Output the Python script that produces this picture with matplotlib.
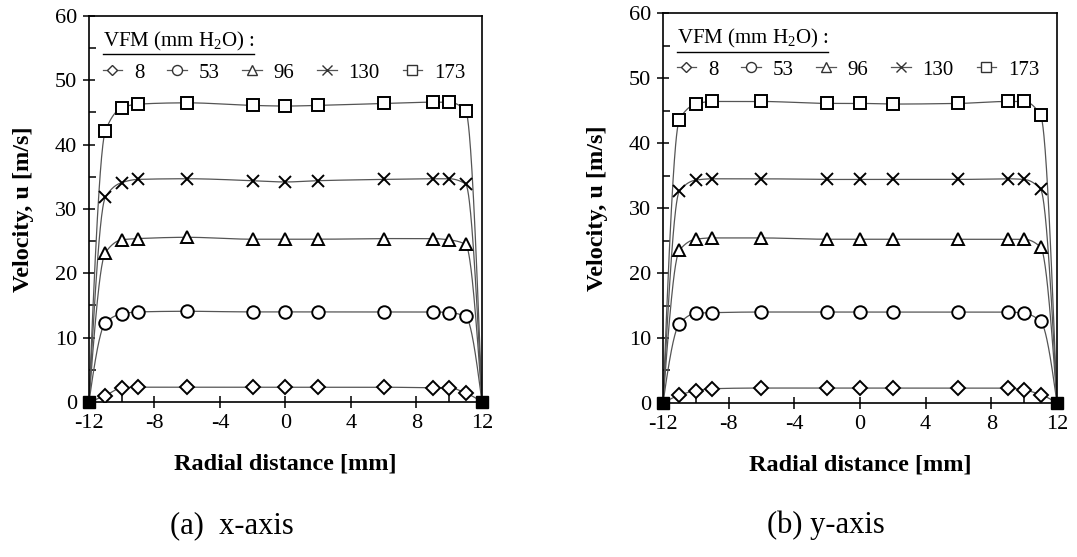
import numpy as np
import matplotlib
matplotlib.use("Agg")
import matplotlib.pyplot as plt
from matplotlib.lines import Line2D

plt.rcParams["font.family"] = ["Liberation Serif", "DejaVu Serif"]
plt.rcParams["mathtext.fontset"] = "custom"
plt.rcParams["mathtext.rm"] = "Liberation Serif"
plt.rcParams["axes.unicode_minus"] = False

# Données : position radiale [mm] et vitesse [m/s] pour chaque pression VFM
radial = [-12, -11, -10, -9, -6, -2, 0, 2, 6, 9, 10, 11, 12]
vfm_labels = ["8", "53", "96", "130", "173"]
markers = ["D", "o", "^", "x", "s"]

x_axis_8 = [0, 1.0, 2.2, 2.3, 2.3, 2.3, 2.3, 2.3, 2.3, 2.2, 2.2, 1.4, 0]
x_axis_53 = [0, 12.3, 13.7, 14.0, 14.1, 14.0, 14.0, 14.0, 14.0, 14.0, 13.9, 13.3, 0]
x_axis_96 = [0, 23.2, 25.2, 25.4, 25.6, 25.3, 25.3, 25.3, 25.4, 25.4, 25.2, 24.5, 0]
x_axis_130 = [0, 31.8, 34.1, 34.6, 34.7, 34.4, 34.2, 34.4, 34.6, 34.7, 34.7, 33.9, 0]
x_axis_173 = [0, 42.1, 45.7, 46.3, 46.5, 46.1, 46.0, 46.1, 46.4, 46.6, 46.6, 45.3, 0]

y_axis_8 = [0, 1.2, 1.9, 2.2, 2.3, 2.3, 2.3, 2.3, 2.3, 2.3, 2.0, 1.3, 0]
y_axis_53 = [0, 12.2, 13.8, 13.9, 14.0, 14.0, 14.0, 14.0, 14.0, 14.0, 13.8, 12.6, 0]
y_axis_96 = [0, 23.5, 25.2, 25.4, 25.4, 25.2, 25.2, 25.2, 25.2, 25.2, 25.2, 24.0, 0]
y_axis_130 = [0, 32.6, 34.3, 34.5, 34.5, 34.4, 34.4, 34.4, 34.4, 34.5, 34.4, 32.9, 0]
y_axis_173 = [0, 43.6, 46.0, 46.4, 46.4, 46.1, 46.1, 46.0, 46.1, 46.4, 46.4, 44.3, 0]

wall_x = [-12, 12]
wall_u = [0, 0]

panels = [
    ("(a)  x-axis", [x_axis_8, x_axis_53, x_axis_96, x_axis_130, x_axis_173]),
    ("(b) y-axis", [y_axis_8, y_axis_53, y_axis_96, y_axis_130, y_axis_173]),
]


def lissage(x, y, n=40):
    # courbe lissée sans dépassement (Hermite monotone, type PCHIP)
    x = np.asarray(x, float)
    y = np.asarray(y, float)
    h = np.diff(x)
    delta = np.diff(y) / h
    d = np.zeros_like(y)
    for k in range(1, len(x) - 1):
        if delta[k - 1] * delta[k] > 0:
            w1 = 2 * h[k] + h[k - 1]
            w2 = h[k] + 2 * h[k - 1]
            d[k] = (w1 + w2) / (w1 / delta[k - 1] + w2 / delta[k])
    for i, (h0, h1, d0, d1) in ((0, (h[0], h[1], delta[0], delta[1])),
                                (-1, (h[-1], h[-2], delta[-1], delta[-2]))):
        m = ((2 * h0 + h1) * d0 - h0 * d1) / (h0 + h1)
        if np.sign(m) != np.sign(d0):
            m = 0
        elif np.sign(d0) != np.sign(d1) and abs(m) > 3 * abs(d0):
            m = 3 * d0
        d[i] = m
    xs, ys = [], []
    t = np.linspace(0, 1, n)
    for k in range(len(x) - 1):
        h00 = 2 * t ** 3 - 3 * t ** 2 + 1
        h10 = t ** 3 - 2 * t ** 2 + t
        h01 = -2 * t ** 3 + 3 * t ** 2
        h11 = t ** 3 - t ** 2
        xs.append(x[k] + t * h[k])
        ys.append(h00 * y[k] + h10 * h[k] * d[k] + h01 * y[k + 1] + h11 * h[k] * d[k + 1])
    return np.concatenate(xs), np.concatenate(ys)


fig = plt.figure(figsize=(10.77, 5.57), dpi=100)
rects = [[0.0826, 0.2783, 0.3649, 0.6930], [0.6156, 0.2765, 0.3658, 0.7000]]
caption_x = [0.2155, 0.767]

for (caption, series), rect, cx in zip(panels, rects, caption_x):
    ax = fig.add_axes(rect)
    handles = []
    for vals, mk, lab in zip(series, markers, vfm_labels):
        xs, ys = lissage(radial, vals)
        ax.plot(xs, ys, color="#555555", lw=0.9, zorder=2)
        ms = 7 if mk == "D" else 9
        ax.plot(radial[1:-1], vals[1:-1], ls="none", marker=mk, ms=ms,
                mfc="white", mec="black", mew=1.4, zorder=3)
        handles.append(Line2D([], [], color="#555555", lw=0.9, marker=mk,
                              ms=ms * 0.8, mfc="white", mec="#333333", mew=1.0))
    ax.plot(wall_x, wall_u, ls="none", marker="s", ms=9, color="black",
            clip_on=False, zorder=4)

    ax.set_xlim(-12, 12)
    ax.set_ylim(0, 60)
    ax.set_xticks([-12, -8, -4, 0, 4, 8, 12])
    ax.set_xticks([-10, 10], minor=True)
    ax.set_yticks(range(0, 61, 10))
    ax.set_yticks(range(5, 60, 10), minor=True)
    ax.tick_params(which="major", direction="inout", length=9, width=1.1,
                   labelsize=16, pad=4)
    ax.tick_params(which="minor", direction="in", length=5, width=1.1)
    for s in ax.spines.values():
        s.set_linewidth(1.2)

    ax.set_xlabel("Radial distance [mm]", fontsize=17.5, fontweight="bold", labelpad=15)
    ax.set_ylabel("Velocity, u [m/s]", fontsize=17.5, fontweight="bold", labelpad=15)

    leg = ax.legend(handles, vfm_labels, title="VFM (mm H$_2$O) :", ncol=5,
                    loc="upper left", bbox_to_anchor=(0.0, 1.0), frameon=False,
                    fontsize=15, title_fontsize=15, alignment="left",
                    handlelength=0.95, handletextpad=0.55, columnspacing=1.1,
                    borderaxespad=0.25)
    # soulignement du titre de la légende
    fig.canvas.draw()
    tb = leg.get_title().get_window_extent()
    inv = ax.transAxes.inverted()
    (x0, y0), (x1, _) = inv.transform([(tb.x0, tb.y0), (tb.x1, tb.y0)])
    ax.plot([x0, x1], [y0 - 0.005, y0 - 0.005], transform=ax.transAxes,
            color="black", lw=1.0, clip_on=False)

    fig.text(cx, 0.057, caption, fontsize=22, ha="center", va="center")

fig.savefig("out.png", dpi=100)
